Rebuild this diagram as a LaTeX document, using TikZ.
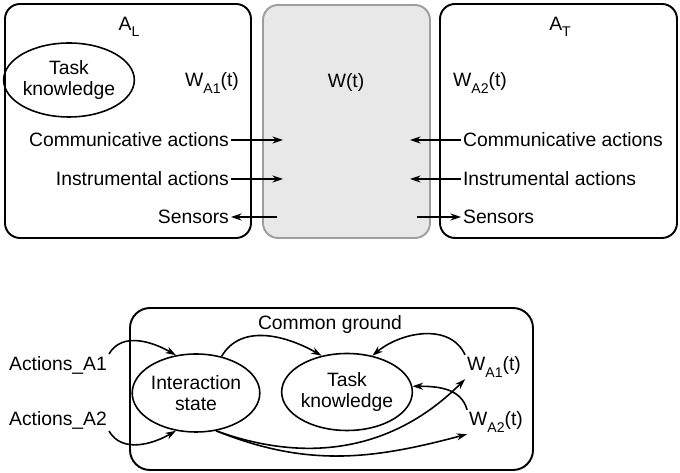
\documentclass[tikz,border=0pt]{standalone}
\usepackage{fontspec}
\setmainfont{Liberation Sans}
\usetikzlibrary{arrows.meta,shapes.geometric}
\newcommand{\lowsub}[1]{\raisebox{-0.6ex}{\fontsize{8}{9}\selectfont #1}}

\begin{document}
\begin{tikzpicture}[
    x=0.02cm,y=0.02cm,
    every node/.style={font=\fontsize{11}{12}\selectfont, inner sep=1pt},
    frame/.style={draw=black, rounded corners=0.3cm, line width=1.1pt},
    world/.style={draw=black!38, fill=black!9, rounded corners=0.3cm, line width=1.1pt},
    blob/.style={draw, ellipse, line width=0.9pt, inner sep=0pt, minimum width=2.25cm, minimum height=1.52cm, align=center},
    arr/.style={-{Stealth[length=6pt,width=4pt]}, line width=0.9pt}
]
    \useasboundingbox (0,0) rectangle (680,473);

    % agents and the world
    \draw[frame] (5,235) rectangle (251,469);
    \draw[world] (263,235) rectangle (430,468);
    \draw[frame] (440,235) rectangle (677,469);

    \node (al)  at (129,446) {A\lowsub{L}};
    \node (at)  at (560,446) {A\lowsub{T}};
    \node[blob, minimum height=1.48cm] (tkl) at (69,393) {Task\\knowledge};
    \node (wa1) at (212,390) {W\lowsub{A1}(t)};
    \node (wt)  at (346,390) {W(t)};
    \node (wa2) at (480,390) {W\lowsub{A2}(t)};

    \node[anchor=east] (comm1)  at (231,333) {Communicative actions};
    \node[anchor=east] (instr1) at (231,294) {Instrumental actions};
    \node[anchor=east] (sens1)  at (231,256) {Sensors};
    \node[anchor=west] (comm2)  at (461,333) {Communicative actions};
    \node[anchor=west] (instr2) at (461,294) {Instrumental actions};
    \node[anchor=west] (sens2)  at (461,256) {Sensors};

    \coordinate (c1) at (283,333);
    \coordinate (i1) at (283,294);
    \coordinate (s1) at (277,256);
    \coordinate (c2) at (410,333);
    \coordinate (i2) at (410,294);
    \coordinate (s2) at (417,256);

    \draw[arr] (comm1.east) -- (c1);
    \draw[arr] (instr1.east) -- (i1);
    \draw[arr] (s1) -- (sens1.east);
    \draw[arr] (comm2.west) -- (c2);
    \draw[arr] (instr2.west) -- (i2);
    \draw[arr] (s2) -- (sens2.west);

    % common ground
    \draw[frame, rounded corners=0.4cm] (130,3) rectangle (533,165);
    \node (cg) at (330,148) {Common ground};
    \node[blob, minimum width=2.28cm, minimum height=1.56cm] (istate) at (196,80) {Interaction\\state};
    \node[blob, minimum width=2.24cm, minimum height=1.54cm] (tk) at (347,81) {Task\\knowledge};
    \node (a1) at (58,108) {Actions\_A1};
    \node (a2) at (58,53) {Actions\_A2};
    \node (w1) at (494,106) {W\lowsub{A1}(t)};
    \node (w2) at (496,51) {W\lowsub{A2}(t)};

    \draw[arr] (a1.north east) to[out=60,in=150] (istate.118);
    \draw[arr] (a2.south east) to[out=-60,in=-150] (istate.-118);
    \draw[arr] (istate.55) to[out=60,in=150] (tk.125);
    \draw[arr] (w1.north west) to[out=115,in=40] (tk.55);
    \draw[arr] (w2.north west) to[out=105,in=0] (tk.5);
    \draw[arr] (istate.-62) to[out=-20,in=-135] (w1.south west);
    \draw[arr] (istate.-62) to[out=-22,in=-165] (w2.south west);
\end{tikzpicture}
\end{document}
